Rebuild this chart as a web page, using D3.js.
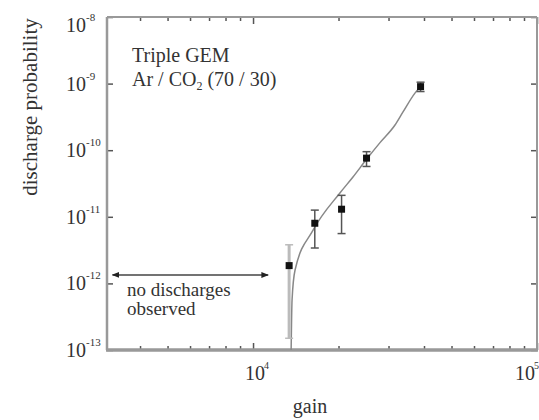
<!DOCTYPE html>
<html>
<head>
<meta charset="utf-8">
<script src="https://cdn.jsdelivr.net/npm/d3@7"></script>
<style>
  body { margin: 0; background: #fff; }
  text { font-family: "Liberation Serif", "DejaVu Serif", serif; fill: #333; }
</style>
</head>
<body>
<div id="chart"></div>
<script>
// measured points: gain, discharge probability, error bar low/high
const gain = [13400, 16500, 20500, 25100, 38900];
const prob = [1.85e-12, 8.0e-12, 1.3e-11, 7.6e-11, 9.0e-10];
const errLow = [1.5e-13, 3.4e-12, 5.6e-12, 5.7e-11, 7.6e-10];
const errHigh = [3.8e-12, 1.26e-11, 2.1e-11, 9.5e-11, 1.05e-9];

// fitted curve through the points
const fitGain = [13620, 13720, 14060, 16270, 20230, 22490, 25100, 28000, 31620, 33740, 37170, 38900];
const fitProb = [1e-13, 5.6e-13, 1.59e-12, 6.3e-12, 2.28e-11, 3.96e-11, 7.3e-11, 1.3e-10, 2.39e-10, 3.75e-10, 7.2e-10, 9.0e-10];

// "no discharges observed" range
const noDischargeGain = [3200, 11300];
const noDischargeProb = 1.34e-12;

const xMajor = [1e4, 1e5];
const xMinor = [4000, 5000, 6000, 7000, 8000, 9000, 20000, 30000, 40000, 50000, 60000, 70000, 80000, 90000];
const yMajor = [1e-13, 1e-12, 1e-11, 1e-10, 1e-9, 1e-8];

const W = 539, H = 420;
const pLeft = 107, pRight = 537, pTop = 17, pBottom = 350;

const svg = d3.select("#chart")
  .append("svg")
  .attr("width", W)
  .attr("height", H);

const x = d3.scaleLog().domain([3060, 1e5]).range([pLeft, pRight]);
const y = d3.scaleLog().domain([1e-13, 1e-8]).range([pBottom, pTop]);

const axisColor = "#999";

// ticks (inward) on all four sides
svg.append("g")
  .attr("transform", `translate(0,${pBottom})`)
  .call(d3.axisBottom(x).tickValues(xMinor).tickSize(-4).tickFormat(""));
svg.append("g")
  .attr("transform", `translate(0,${pBottom})`)
  .call(d3.axisBottom(x).tickValues(xMajor).tickSize(-7).tickFormat(""));
svg.append("g")
  .attr("transform", `translate(0,${pTop})`)
  .call(d3.axisTop(x).tickValues(xMinor).tickSize(-4).tickFormat(""));
svg.append("g")
  .attr("transform", `translate(0,${pTop})`)
  .call(d3.axisTop(x).tickValues(xMajor).tickSize(-7).tickFormat(""));
svg.append("g")
  .attr("transform", `translate(${pLeft},0)`)
  .call(d3.axisLeft(y).tickValues(yMajor).tickSize(-6).tickFormat(""));
svg.append("g")
  .attr("transform", `translate(${pRight},0)`)
  .call(d3.axisRight(y).tickValues(yMajor).tickSize(-6).tickFormat(""));

svg.selectAll(".domain").remove();
svg.selectAll(".tick line").attr("stroke", "#555").attr("stroke-width", 1.5);

// frame
svg.append("line").attr("x1", pLeft).attr("x2", pRight).attr("y1", pTop).attr("y2", pTop)
  .attr("stroke", axisColor).attr("stroke-width", 2);
svg.append("line").attr("x1", pLeft).attr("x2", pLeft).attr("y1", pTop).attr("y2", pBottom)
  .attr("stroke", axisColor).attr("stroke-width", 2.5);
svg.append("line").attr("x1", pRight).attr("x2", pRight).attr("y1", pTop).attr("y2", pBottom)
  .attr("stroke", axisColor).attr("stroke-width", 2);
svg.append("line").attr("x1", pLeft - 1).attr("x2", pRight + 1).attr("y1", pBottom).attr("y2", pBottom)
  .attr("stroke", axisColor).attr("stroke-width", 3.5);

// y tick labels ("10" right-aligned, exponent after it)
yMajor.forEach(v => {
  const base = v === 1e-8 ? y(v) + 15 : y(v) + 7;  // top label pushed down into view
  svg.append("text")
    .attr("x", 86)
    .attr("y", base)
    .attr("text-anchor", "end")
    .style("font-size", "20px")
    .text("10");
  svg.append("text")
    .attr("x", 86)
    .attr("y", base - 11)
    .style("font-size", "11px")
    .text(Math.round(Math.log10(v)));
});

// x tick labels
xMajor.forEach(v => {
  const x0 = v === 1e5 ? x(v) - 22 : x(v) - 8;
  svg.append("text")
    .attr("x", x0)
    .attr("y", 380)
    .style("font-size", "20px")
    .text("10");
  svg.append("text")
    .attr("x", x0 + 19)
    .attr("y", 369)
    .style("font-size", "10px")
    .text(Math.round(Math.log10(v)));
});

// axis titles
svg.append("text")
  .attr("x", 310)
  .attr("y", 413)
  .attr("text-anchor", "middle")
  .style("font-size", "20px")
  .text("gain");

svg.append("text")
  .attr("transform", `translate(37,107) rotate(-90)`)
  .attr("text-anchor", "middle")
  .style("font-size", "21px")
  .text("discharge probability");

// labels in the plot
svg.append("text").attr("x", 132).attr("y", 62).style("font-size", "20px").text("Triple GEM");
const gas = svg.append("text").attr("x", 132).attr("y", 86).style("font-size", "20px");
gas.append("tspan").text("Ar / CO");
gas.append("tspan").attr("dy", 4).style("font-size", "12px").text("2");
gas.append("tspan").attr("dy", -4).text(" (70 / 30)");

svg.append("text").attr("x", 127).attr("y", 296).style("font-size", "19px").text("no discharges");
svg.append("text").attr("x", 127).attr("y", 315).style("font-size", "19px").text("observed");

// arrow for no-discharge region
const defs = svg.append("defs");
defs.append("marker")
  .attr("id", "arr")
  .attr("viewBox", "0 0 10 10")
  .attr("refX", 9).attr("refY", 5)
  .attr("markerWidth", 5).attr("markerHeight", 5)
  .attr("orient", "auto-start-reverse")
  .append("path")
  .attr("d", "M0,1 L10,5 L0,9 Z")
  .attr("fill", "#222");

svg.append("line")
  .attr("x1", x(noDischargeGain[0]))
  .attr("x2", x(noDischargeGain[1]))
  .attr("y1", y(noDischargeProb))
  .attr("y2", y(noDischargeProb))
  .attr("stroke", "#444")
  .attr("stroke-width", 1.5)
  .attr("marker-start", "url(#arr)")
  .attr("marker-end", "url(#arr)");

// fitted curve
const fit = fitGain.map((g, i) => ({ g, p: fitProb[i] }));
svg.append("path")
  .datum(fit)
  .attr("fill", "none")
  .attr("stroke", "#888")
  .attr("stroke-width", 1.5)
  .attr("d", d3.line().x(d => x(d.g)).y(d => y(d.p)).curve(d3.curveMonotoneX));

// error bars and markers
const pts = gain.map((g, i) => ({ g, p: prob[i], lo: errLow[i], hi: errHigh[i], i }));

const eb = svg.selectAll(".err")
  .data(pts)
  .enter()
  .append("g")
  .attr("stroke", d => d.i === 0 ? "#bbb" : "#555")
  .attr("stroke-width", d => d.i === 0 ? 3 : 1.5);

eb.append("line")
  .attr("x1", d => x(d.g)).attr("x2", d => x(d.g))
  .attr("y1", d => y(d.lo)).attr("y2", d => y(d.hi));
eb.append("line")
  .attr("x1", d => x(d.g) - 4).attr("x2", d => x(d.g) + 4)
  .attr("y1", d => y(d.lo)).attr("y2", d => y(d.lo))
  .attr("stroke-width", 1.5);
eb.append("line")
  .attr("x1", d => x(d.g) - 4).attr("x2", d => x(d.g) + 4)
  .attr("y1", d => y(d.hi)).attr("y2", d => y(d.hi))
  .attr("stroke-width", 1.5);

svg.selectAll(".pt")
  .data(pts)
  .enter()
  .append("rect")
  .attr("x", d => x(d.g) - 3.5)
  .attr("y", d => y(d.p) - 3.5)
  .attr("width", 7)
  .attr("height", 7)
  .attr("fill", "#111");
</script>
</body>
</html>
